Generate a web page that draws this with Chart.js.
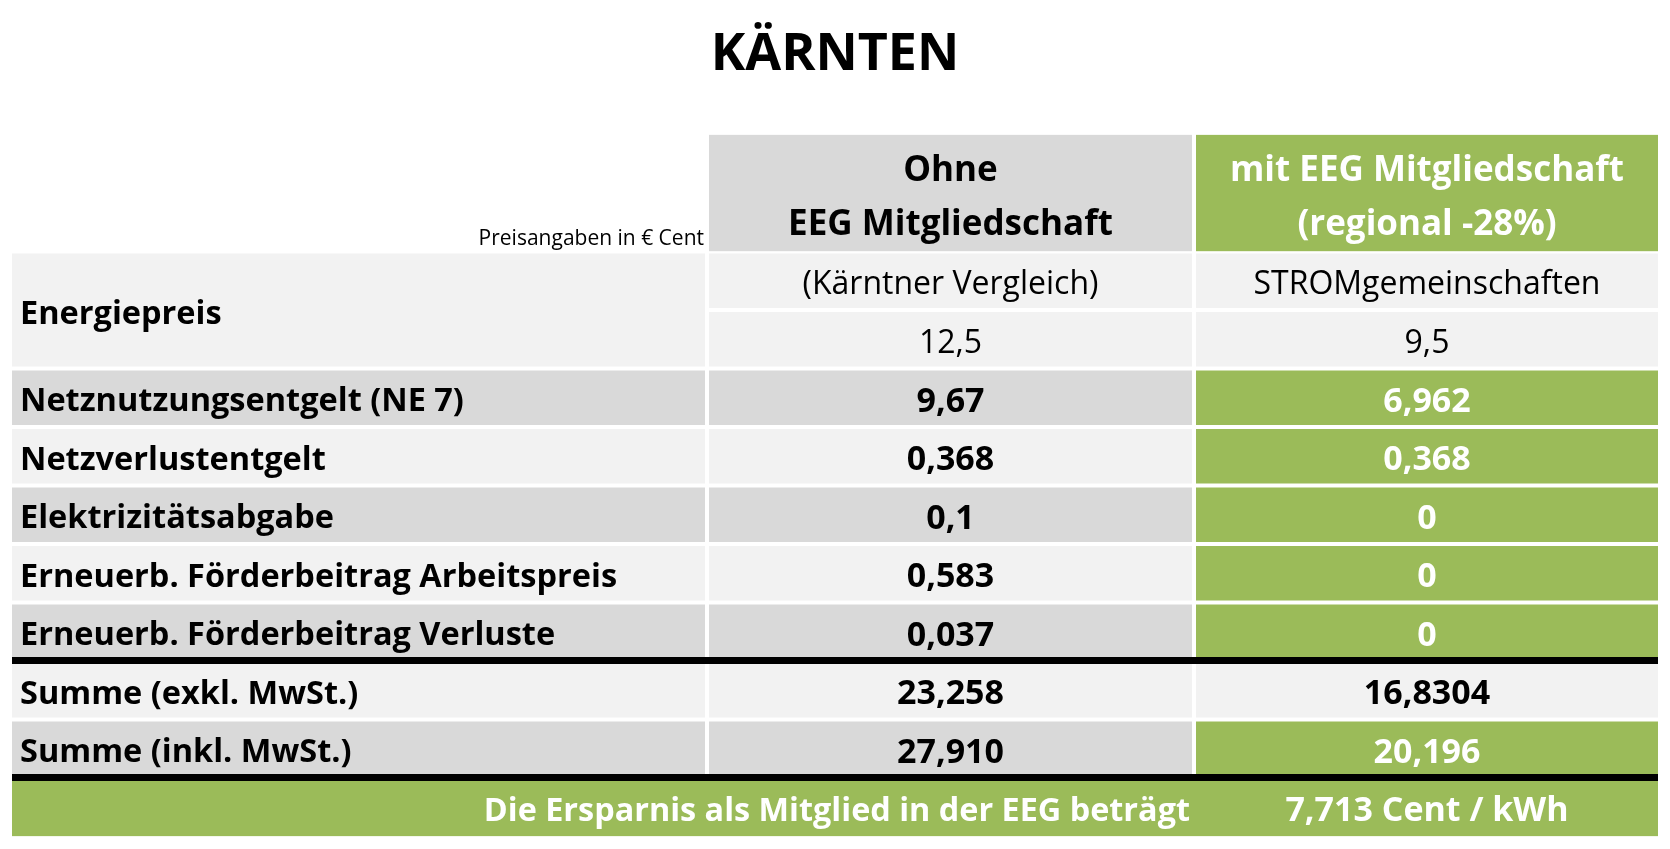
<!DOCTYPE html>
<html lang="de">
<head>
<meta charset="utf-8">
<title>Kärnten – Strompreisvergleich</title>
<script src="https://cdn.jsdelivr.net/npm/chart.js@4.4.1/dist/chart.umd.min.js"></script>
<style>
  html, body { margin: 0; padding: 0; background: #fff; }
  #wrap { width: 1670px; height: 849px; }
</style>
</head>
<body>
<div id="wrap"><canvas id="table-chart"></canvas></div>
<script>
// ---- table content ----
const titleText = 'KÄRNTEN';
const unitNote = 'Preisangaben in € Cent';
const headerOhne = ['Ohne', 'EEG Mitgliedschaft'];
const headerMit = ['mit EEG Mitgliedschaft', '(regional -28%)'];
const providerOhne = '(Kärntner Vergleich)';
const providerMit = 'STROMgemeinschaften';
const rowLabels = [
    'Energiepreis',
    'Netznutzungsentgelt (NE 7)',
    'Netzverlustentgelt',
    'Elektrizitätsabgabe',
    'Erneuerb. Förderbeitrag Arbeitspreis',
    'Erneuerb. Förderbeitrag Verluste',
    'Summe (exkl. MwSt.)',
    'Summe (inkl. MwSt.)'
];
const ohneValues = ['12,5', '9,67', '0,368', '0,1', '0,583', '0,037', '23,258', '27,910'];
const mitValues = ['9,5', '6,962', '0,368', '0', '0', '0', '16,8304', '20,196'];
const savingLabel = 'Die Ersparnis als Mitglied in der EEG beträgt';
const savingValue = '7,713 Cent / kWh';

// ---- layout / style ----
// vertical slots of the category axis (header and Energiepreis take two each)
const slots = ['head1', 'head2', 'energy1', 'energy2', 'netz', 'verlust', 'abgabe',
               'foerderAP', 'foerderV', 'summeExkl', 'summeInkl', 'saving'];
const rowSlots = [['energy1', 'energy2'], ['netz'], ['verlust'], ['abgabe'],
                  ['foerderAP'], ['foerderV'], ['summeExkl'], ['summeInkl']];
const colEdges = [0, 697, 1184, 1650];
const mitHighlight = [false, true, true, true, true, true, false, true];

const LIGHT = '#F2F2F2';
const DARK = '#D9D9D9';
const GREEN = '#9BBB59';
const FONT = '"Open Sans", Lato, sans-serif';
const GAP = 2;

function span(c) { return [colEdges[c], colEdges[c + 1]]; }
function slotIndex(key) { return slots.indexOf(key); }

// one floating bar per cell, dataset = column
function columnDataset(c) {
    const data = slots.map(function() { return null; });
    const colors = slots.map(function() { return 'rgba(0,0,0,0)'; });
    const borders = slots.map(function() { return 0; });

    if (c > 0) {
        ['head1', 'head2'].forEach(function(k) {
            const i = slotIndex(k);
            data[i] = span(c);
            colors[i] = c === 1 ? DARK : GREEN;
            borders[i] = { top: 0, bottom: 0, left: GAP, right: GAP };
        });
    }
    rowSlots.forEach(function(keys, r) {
        keys.forEach(function(k, j) {
            const i = slotIndex(k);
            data[i] = span(c);
            let col = r % 2 === 0 ? LIGHT : DARK;
            if (c === 2 && mitHighlight[r]) col = GREEN;
            colors[i] = col;
            if (c === 0 && keys.length > 1) {
                borders[i] = { top: j === 0 ? GAP : 0, bottom: j === keys.length - 1 ? GAP : 0, left: GAP, right: GAP };
            } else {
                borders[i] = GAP;
            }
        });
    });
    return {
        label: 'col' + c,
        data: data,
        backgroundColor: colors,
        borderColor: '#FFFFFF',
        borderWidth: borders,
        borderSkipped: false,
        inflateAmount: 0,
        order: 2
    };
}

const savingData = slots.map(function(k) { return k === 'saving' ? [0, colEdges[3]] : null; });
const ruleWidths = { foerderV: { bottom: 4 }, summeExkl: { top: 3 }, summeInkl: { bottom: 4 }, saving: { top: 3 } };
const ruleData = slots.map(function(k) { return ruleWidths[k] ? [GAP, colEdges[3] - GAP] : null; });

const cellText = {
    id: 'cellText',
    afterDatasetsDraw: function(chart) {
        const ctx = chart.ctx;
        const x = chart.scales.x;
        const y = chart.scales.y;
        const half = (y.getPixelForValue(1) - y.getPixelForValue(0)) / 2;
        const colMid = function(c) { return x.getPixelForValue((colEdges[c] + colEdges[c + 1]) / 2); };
        const mid = function(keys) {
            let s = 0;
            keys.forEach(function(k) { s += y.getPixelForValue(slotIndex(k)); });
            return s / keys.length;
        };
        // py = vertical centre of the capitals
        function put(text, px, py, size, weight, color, align) {
            ctx.font = weight + ' ' + size + 'px ' + FONT;
            ctx.fillStyle = color;
            ctx.textAlign = align || 'center';
            ctx.textBaseline = 'alphabetic';
            ctx.fillText(text, px, py + size * 0.357);
        }
        ctx.save();

        // header
        const hMid = mid(['head1', 'head2']);
        put(headerOhne[0], colMid(1), hMid - 24, 35, 'bold', '#000');
        put(headerOhne[1], colMid(1), hMid + 30, 35, 'bold', '#000');
        put(headerMit[0], colMid(2), hMid - 24, 35, 'bold', '#fff');
        put(headerMit[1], colMid(2), hMid + 30, 35, 'bold', '#fff');
        ctx.font = '21px ' + FONT;
        ctx.fillStyle = '#000';
        ctx.textAlign = 'right';
        ctx.fillText(unitNote, x.getPixelForValue(colEdges[1]) - 3, y.getPixelForValue(slotIndex('head2')) + half - 7);

        // rows
        rowSlots.forEach(function(keys, r) {
            const left = x.getPixelForValue(colEdges[0]) + 10;
            put(rowLabels[r], left, mid(keys) + 2, 32.5, 'bold', '#000', 'left');
            if (keys.length > 1) {
                const top = y.getPixelForValue(slotIndex(keys[0])) + 2;
                const bot = y.getPixelForValue(slotIndex(keys[1])) + 2;
                put(providerOhne, colMid(1), top, 32, 'normal', '#000');
                put(providerMit, colMid(2), top, 32, 'normal', '#000');
                put(ohneValues[r], colMid(1), bot, 32, 'normal', '#000');
                put(mitValues[r], colMid(2), bot, 32, 'normal', '#000');
            } else {
                const py = mid(keys) + 2;
                put(ohneValues[r], colMid(1), py, 34, 'bold', '#000');
                put(mitValues[r], colMid(2), py, 34, 'bold', mitHighlight[r] ? '#fff' : '#000');
            }
        });

        // saving line
        const sy = y.getPixelForValue(slotIndex('saving')) + 2;
        put(savingLabel, x.getPixelForValue(colEdges[2]) - 4, sy, 32.4, 'bold', '#fff', 'right');
        put(savingValue, colMid(2), sy, 34, 'bold', '#fff');
        ctx.restore();
    }
};

new Chart(document.getElementById('table-chart'), {
    type: 'bar',
    data: {
        labels: slots,
        datasets: [
            {
                label: 'rules',
                data: ruleData,
                backgroundColor: 'rgba(0,0,0,0)',
                borderColor: '#000000',
                borderWidth: slots.map(function(k) {
                    const w = ruleWidths[k] || {};
                    return { top: w.top || 0, bottom: w.bottom || 0, left: 0, right: 0 };
                }),
                borderSkipped: false,
                inflateAmount: 0,
                order: 0
            },
            {
                label: 'saving',
                data: savingData,
                backgroundColor: GREEN,
                borderColor: '#FFFFFF',
                borderWidth: { top: 0, bottom: 0, left: GAP, right: GAP },
                borderSkipped: false,
                inflateAmount: 0,
                order: 1
            },
            columnDataset(0),
            columnDataset(1),
            columnDataset(2)
        ]
    },
    options: {
        indexAxis: 'y',
        responsive: true,
        maintainAspectRatio: false,
        animation: false,
        grouped: false,
        barPercentage: 1,
        categoryPercentage: 1,
        layout: { padding: { left: 10, right: 10, top: 0, bottom: 12.5 } },
        scales: {
            x: { type: 'linear', min: 0, max: colEdges[3], display: false },
            y: { type: 'category', display: false }
        },
        plugins: {
            legend: { display: false },
            tooltip: { enabled: false },
            title: {
                display: true,
                text: titleText,
                color: '#000',
                font: { family: FONT, size: 52, weight: 'bold', lineHeight: 1.2 },
                padding: { top: 24, bottom: 48.1 }
            }
        }
    },
    plugins: [cellText]
});
</script>
</body>
</html>
